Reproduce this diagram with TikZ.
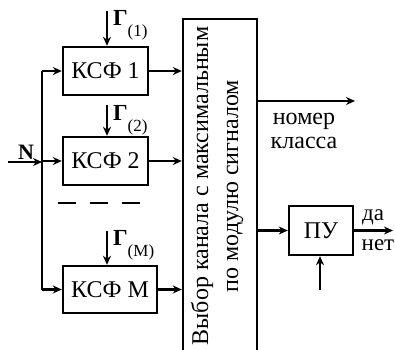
\documentclass[tikz,border=0pt]{standalone}
\usepackage{fontspec}
\setmainfont{Liberation Serif}
\usetikzlibrary{arrows.meta,calc}

\tikzset{
    blk/.style={draw, line width=2.4pt, inner sep=0pt},
    lbl/.style={font=\fontsize{23}{22}\selectfont, inner sep=0pt},
}

\begin{document}
\begin{tikzpicture}[x=1pt, y=-1pt, line width=2.2pt, >={Stealth[length=9pt, width=8pt]},
    font=\fontsize{24}{28}\selectfont]
    \useasboundingbox (0,0) rectangle (395,349);
    \clip (0,0) rectangle (395,349);

    % matched filters
    \node[blk, minimum width=85, minimum height=48] (k1) at (105.5,71) {КСФ 1};
    \node[blk, minimum width=85, minimum height=48] (k2) at (105.5,161) {КСФ 2};
    \node[blk, minimum width=94, minimum height=47] (kM) at (110,289.5) {КСФ M};

    % channel selection
    \node[blk, minimum width=74, minimum height=341] (sel) at (220,189.5) {};
    \node[lbl, rotate=90, align=center, font=\fontsize{24}{30}\selectfont] at (217,186)
        {Выбор канала с максимальным\\по модулю сигналом};

    % decision device
    \node[blk, minimum width=64, minimum height=49] (pu) at (321,230.5) {ПУ};

    % input bus
    \coordinate (bt) at (42,71);
    \coordinate (bb) at (42,289.5);
    \coordinate (in) at (8,162);
    \draw (bt) -- (bb);
    \draw[->] (bt) -- (k1.west);
    \draw[->] (bt |- k2.west) -- (k2.west);
    \draw[->] (bb) -- (kM.west);
    \draw[->] (in) -- (in -| bt);
    \node[lbl, font=\fontsize{22}{22}\selectfont\bfseries] at (26,152) {N};

    % references
    \coordinate (g1) at (107,11);
    \coordinate (g2) at (107,105);
    \coordinate (gM) at (107,231);
    \draw[->] (g1) -- (g1 |- k1.north);
    \draw[->] (g2) -- (g2 |- k2.north);
    \draw[->] (gM) -- (gM |- kM.north);
    \node[lbl, anchor=north west] at (112,9) {\textbf{Γ}\raisebox{-1.1ex}{\fontsize{17}{17}\selectfont(1)}};
    \node[lbl, anchor=north west] at (112,104) {\textbf{Γ}\raisebox{-1.1ex}{\fontsize{17}{17}\selectfont(2)}};
    \node[lbl, anchor=north west] at (112,229) {\textbf{Γ}\raisebox{-1.1ex}{\fontsize{17}{17}\selectfont(M)}};

    \draw[line width=2.4pt, dash pattern=on 18pt off 14pt] (58,203) -- (140,203);

    % filter outputs
    \draw[->] (k1.east) -- (k1.east -| sel.west);
    \draw[->] (k2.east) -- (k2.east -| sel.west);
    \draw[->] (kM.east) -- (kM.east -| sel.west);

    % class number
    \coordinate (cls) at (355,101);
    \draw[->] (cls -| sel.east) -- (cls);
    \node[lbl, align=center, font=\fontsize{24}{24}\selectfont] at (304,131) {номер\\класса};

    % decision
    \coordinate (thr) at (320,290);
    \coordinate (dec) at (393,230.5);
    \draw[->] (pu.west -| sel.east) -- (pu.west);
    \draw[->] (thr) -- (thr |- pu.south);
    \draw[->] (pu.east) -- (dec);
    \node[lbl] at (373,217) {да};
    \node[lbl] at (378,245) {нет};
\end{tikzpicture}
\end{document}
